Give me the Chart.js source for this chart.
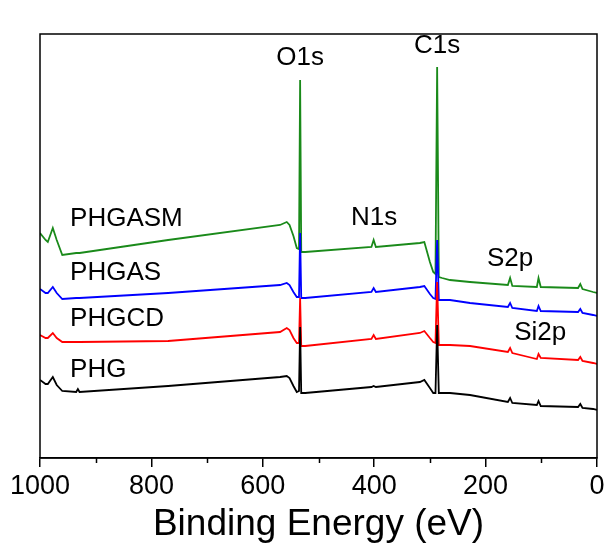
<!DOCTYPE html>
<html>
<head>
<meta charset="utf-8">
<script src="https://cdn.jsdelivr.net/npm/chart.js@4.4.1/dist/chart.umd.min.js"></script>
<style>
html,body{margin:0;padding:0;background:#fff;}
#wrap{width:611px;height:550px;}
</style>
</head>
<body>
<div id="wrap"><canvas id="c" width="611" height="550"></canvas></div>
<script>
// Binding energies (eV), shared by all series
const energy = [1000, 990, 986, 977, 970, 960, 935, 932, 929, 770, 569, 557, 552, 545, 539, 535, 533, 531, 524, 405, 401, 397, 318, 310, 300, 294, 290, 287, 284, 278, 264, 228, 160, 156, 152, 108, 105, 101, 34, 30, 26, 7, 0];
// Intensities (arbitrary units, stacked offsets)
const phgasm = [225, 218, 216, 230, 218, 203, 205, 205, 205, 218, 233, 236, 233, 222, 210, 209, 378, 206, 206, 211, 218, 211, 215, 216, 196, 186, 184, 391, 181, 180, 178, 176, 173, 180, 172, 171, 180, 171, 170, 174, 169, 166, 165];
const phgas  = [169, 165, 165, 171, 165, 159, 160, 160, 160, 165, 173, 175, 173, 166, 161, 161, 225, 160, 160, 166, 170, 166, 171, 172, 164, 160, 159, 218, 158, 158, 158, 155, 151, 155, 150, 147, 152, 147, 146, 149, 145, 143, 142];
const phgcd  = [123, 120, 120, 125, 120, 116, 116, 116, 116, 117, 126, 130, 128, 120, 115, 115, 160, 112, 112, 119, 123, 119, 125, 127, 120, 116, 115, 176, 113, 113, 113, 112, 106, 110, 105, 99, 104, 100, 98, 101, 97, 95, 94];
const phg    = [78, 74, 74, 81, 73, 67, 66, 69, 66, 72, 81, 82, 80, 72, 66, 67, 131, 65, 65, 71, 72, 71, 76, 78, 70, 65, 65, 133, 65, 65, 65, 63, 56, 60, 55, 53, 57, 52, 51, 54, 50, 49, 48];

const seriesNames = ['PHG', 'PHGCD', 'PHGAS', 'PHGASM'];
const seriesColors = ['#000000', '#ff0000', '#0000ff', '#1a8a1a'];
const seriesValues = [phg, phgcd, phgas, phgasm];

const xTicks = [0, 200, 400, 600, 800, 1000];
const xMinorTicks = [100, 300, 500, 700, 900];

// Text annotations
const labelTexts = ['O1s', 'C1s', 'N1s', 'S2p', 'Si2p', 'PHGASM', 'PHGAS', 'PHGCD', 'PHG'];
const labelEnergy = [533, 287, 400, 156, 102, 946, 946, 946, 946];
const labelIntensity = [400, 412, 240, 199, 125, 239, 185, 139, 88];
const labelAlign = ['center', 'center', 'center', 'center', 'center', 'left', 'left', 'left', 'left'];

const FONT = "'Liberation Sans', Arial, Helvetica, sans-serif";

const datasets = seriesNames.map((name, i) => ({
  label: name,
  data: energy.map((e, j) => ({x: e, y: seriesValues[i][j]})),
  borderColor: seriesColors[i],
  borderWidth: 1.8,
  pointRadius: 0,
  tension: 0,
  fill: false
}));

const framePlugin = {
  id: 'frame',
  afterDraw(chart) {
    const {ctx, chartArea: a, scales} = chart;
    const xs = scales.x, ys = scales.y;
    ctx.save();
    ctx.strokeStyle = '#000';
    ctx.lineWidth = 1.5;
    ctx.strokeRect(a.left, a.top, a.right - a.left, a.bottom - a.top);
    ctx.beginPath();
    xMinorTicks.forEach(v => {
      const px = Math.round(xs.getPixelForValue(v)) + 0.5;
      ctx.moveTo(px, a.bottom);
      ctx.lineTo(px, a.bottom + 5);
    });
    ctx.stroke();
    ctx.fillStyle = '#000';
    ctx.font = '26px ' + FONT;
    ctx.textBaseline = 'middle';
    labelTexts.forEach((t, i) => {
      ctx.textAlign = labelAlign[i];
      ctx.fillText(t, xs.getPixelForValue(labelEnergy[i]), ys.getPixelForValue(labelIntensity[i]));
    });
    ctx.restore();
  }
};

new Chart(document.getElementById('c'), {
  type: 'line',
  data: {datasets},
  options: {
    responsive: false,
    devicePixelRatio: 1,
    animation: false,
    events: [],
    layout: {padding: {left: 40, right: 14, top: 34, bottom: 0}},
    plugins: {legend: {display: false}, tooltip: {enabled: false}},
    scales: {
      x: {
        type: 'linear',
        reverse: true,
        min: 0,
        max: 1000,
        afterBuildTicks(scale) { scale.ticks = xTicks.map(v => ({value: v})); },
        afterFit(scale) { scale.height = 92; },
        ticks: {color: '#000', font: {size: 27, family: FONT}, padding: 3, maxRotation: 0, callback: v => String(v)},
        grid: {display: true, drawOnChartArea: false, drawTicks: true, tickLength: 9, color: '#000', lineWidth: 1.5},
        border: {display: true, color: '#000', width: 1.5},
        title: {display: true, text: 'Binding Energy (eV)', color: '#000', font: {size: 37, family: FONT}, padding: {top: 0, bottom: 3}}
      },
      y: {
        display: false,
        min: 0,
        max: 424
      }
    }
  },
  plugins: [framePlugin]
});
</script>
</body>
</html>
